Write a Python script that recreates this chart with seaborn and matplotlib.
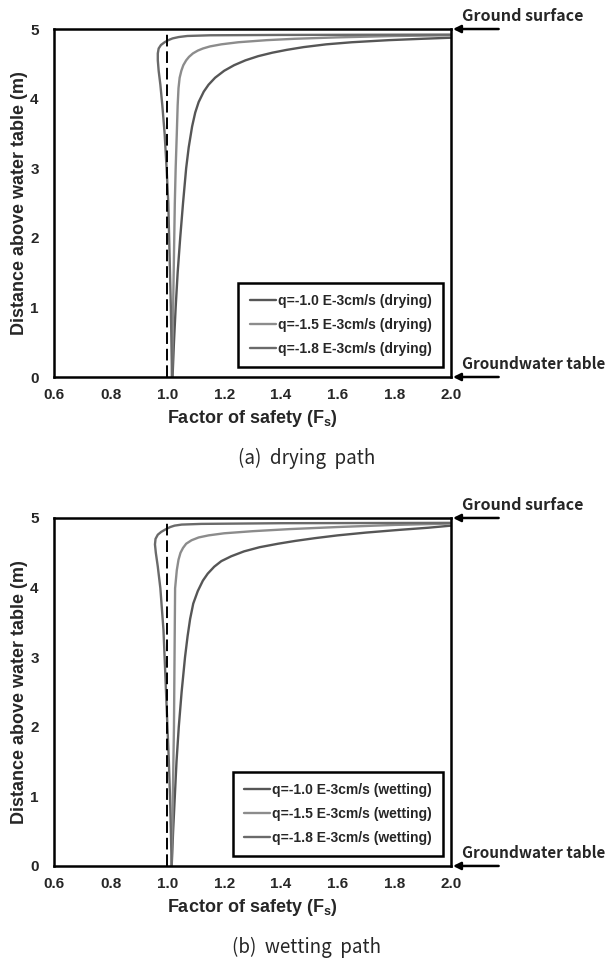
import numpy as np
import pandas as pd
import seaborn as sns
import matplotlib.pyplot as plt

# ---- data ---------------------------------------------------------------------

series = ['q=-1.0 E-3cm/s', 'q=-1.5 E-3cm/s', 'q=-1.8 E-3cm/s']
line_colors = ['#565656', '#8c8c8c', '#6a6a6a']

# (a) drying path
dry_z_10 = [0, 0.5, 1.0, 1.5, 2.0, 2.5, 3.0, 3.3, 3.6, 3.8, 3.95, 4.1, 4.2, 4.3,
            4.4, 4.48, 4.55, 4.61, 4.66, 4.70, 4.74, 4.78, 4.81, 4.84, 4.86, 4.875]
dry_fs_10 = [1.018, 1.023, 1.029, 1.036, 1.045, 1.055, 1.066, 1.075, 1.087, 1.098,
             1.11, 1.128, 1.145, 1.168, 1.2, 1.235, 1.275, 1.32, 1.37, 1.42, 1.48,
             1.56, 1.65, 1.78, 1.9, 2.0]

dry_z_15 = [0, 0.5, 1.0, 1.5, 2.0, 2.5, 3.0, 3.5, 3.9, 4.15, 4.3, 4.4, 4.48, 4.55,
            4.6, 4.65, 4.69, 4.72, 4.75, 4.78, 4.81, 4.84, 4.86, 4.88, 4.9, 4.91]
dry_fs_15 = [1.016, 1.018, 1.02, 1.022, 1.024, 1.026, 1.029, 1.033, 1.036, 1.039,
             1.043, 1.049, 1.056, 1.066, 1.076, 1.09, 1.107, 1.125, 1.15, 1.19,
             1.25, 1.35, 1.45, 1.6, 1.8, 2.0]

dry_z_18 = [0, 0.5, 1.0, 1.5, 2.0, 2.5, 3.0, 3.5, 3.9, 4.2, 4.4, 4.55, 4.65, 4.72,
            4.77, 4.81, 4.84, 4.865, 4.885, 4.9, 4.91, 4.915, 4.92]
dry_fs_18 = [1.016, 1.014, 1.012, 1.009, 1.006, 1.003, 0.997, 0.99, 0.982, 0.975,
             0.969, 0.966, 0.966, 0.969, 0.977, 0.99, 1.003, 1.018, 1.04, 1.07,
             1.15, 1.4, 2.0]

# (b) wetting path
wet_z_10 = [0, 0.5, 1.0, 1.5, 2.0, 2.5, 3.0, 3.3, 3.55, 3.77, 3.95, 4.1, 4.2, 4.3,
            4.38, 4.45, 4.52, 4.58, 4.63, 4.67, 4.71, 4.75, 4.79, 4.83, 4.86, 4.89]
wet_fs_10 = [1.015, 1.02, 1.026, 1.032, 1.04, 1.05, 1.062, 1.071, 1.08, 1.091,
             1.107, 1.125, 1.142, 1.165, 1.19, 1.225, 1.27, 1.325, 1.39, 1.45,
             1.52, 1.6, 1.7, 1.82, 1.92, 2.0]

wet_z_15 = [0, 0.5, 1.0, 1.5, 2.0, 2.5, 3.0, 3.5, 3.99, 4.25, 4.4, 4.5, 4.57, 4.63,
            4.68, 4.72, 4.75, 4.78, 4.81, 4.84, 4.87, 4.9, 4.92]
wet_fs_15 = [1.015, 1.017, 1.019, 1.021, 1.023, 1.024, 1.025, 1.026, 1.027, 1.033,
             1.039, 1.046, 1.055, 1.066, 1.085, 1.11, 1.145, 1.2, 1.3, 1.43, 1.6,
             1.8, 2.0]

wet_z_18 = [0, 0.5, 1.0, 1.5, 2.0, 2.5, 3.0, 3.39, 3.99, 4.3, 4.5, 4.62, 4.7, 4.76,
            4.8, 4.84, 4.87, 4.89, 4.905, 4.915, 4.925, 4.93]
wet_fs_18 = [1.015, 1.012, 1.009, 1.005, 1.0, 0.995, 0.99, 0.986, 0.975, 0.966,
             0.959, 0.956, 0.958, 0.966, 0.978, 0.995, 1.01, 1.025, 1.05, 1.12,
             1.4, 2.0]

x_ticks = [0.6, 0.8, 1.0, 1.2, 1.4, 1.6, 1.8, 2.0]
y_ticks = [0, 1, 2, 3, 4, 5]

# ---- style --------------------------------------------------------------------

sns.set_theme(style='white')
plt.rcParams['font.family'] = ['Liberation Sans', 'DejaVu Sans']
plt.rcParams['font.weight'] = 'bold'
plt.rcParams['mathtext.fontset'] = 'custom'
plt.rcParams['mathtext.rm'] = 'Liberation Sans:bold'
plt.rcParams['mathtext.bf'] = 'Liberation Sans:bold'

KR = ['Noto Sans CJK KR', 'DejaVu Sans']


def make_df(zs, fss):
    parts = []
    for name, z, fs in zip(series, zs, fss):
        parts.append(pd.DataFrame({'Fs': fs, 'z': z, 'q': name}))
    return pd.concat(parts, ignore_index=True)


def draw_panel(ax, df, tag):
    sns.lineplot(data=df, x='Fs', y='z', hue='q', hue_order=series,
                 palette=line_colors, sort=False, estimator=None,
                 linewidth=1.7, legend=False, ax=ax, solid_joinstyle='round')
    handles = list(ax.get_lines()[:3])
    ax.axvline(1.0, color='black', linewidth=1.4, linestyle=(0, (6, 2.5)))

    ax.set_xlim(0.6, 2.0)
    ax.set_ylim(0, 5)
    ax.set_xticks(x_ticks)
    ax.set_xticklabels([f'{v:.1f}' for v in x_ticks])
    ax.set_yticks(y_ticks)
    ax.tick_params(axis='both', direction='in', length=4, width=1.5,
                   labelsize=11, color='black')
    ax.tick_params(axis='x', pad=8)
    ax.tick_params(axis='y', pad=11)
    for s in ax.spines.values():
        s.set_linewidth(1.8)
        s.set_color('black')

    ax.set_xlabel(r'Factor of safety (F$_\mathrm{s}$)', fontsize=13,
                  fontweight='bold', labelpad=4)
    ax.set_ylabel('Distance above water table (m)', fontsize=13,
                  fontweight='bold')
    ax.yaxis.set_label_coords(-0.065, 0.5)

    leg = ax.legend(handles, [f'{s} ({tag})' for s in series],
                    loc='lower right', bbox_to_anchor=(0.98, 0.029),
                    borderaxespad=0, fontsize=10, handlelength=1.9,
                    handletextpad=0.15, labelspacing=0.72, borderpad=0.8,
                    fancybox=False, framealpha=1, edgecolor='black')
    leg.get_frame().set_linewidth(1.8)
    for t in leg.get_texts():
        t.set_fontweight('bold')

    # boundary markers on the right
    for yfrac, label, size in [(1.0, 'Ground surface', 11.5),
                               (0.0, 'Groundwater table', 11)]:
        ax.annotate('', xy=(1.005, yfrac), xytext=(1.12, yfrac),
                    xycoords='axes fraction', textcoords='axes fraction',
                    arrowprops=dict(arrowstyle='-|>', color='black', lw=1.8,
                                    mutation_scale=11, shrinkA=0, shrinkB=0))
        ax.text(1.028, yfrac + 0.038, label, transform=ax.transAxes,
                ha='left', va='center', fontsize=size, fontweight='bold',
                family=KR)


fig = plt.figure(figsize=(6.07, 9.61), dpi=100)
ax_top = fig.add_axes([0.089, 0.6077, 0.654, 0.3621])
ax_bot = fig.add_axes([0.089, 0.0989, 0.654, 0.3621])

draw_panel(ax_top, make_df([dry_z_10, dry_z_15, dry_z_18],
                           [dry_fs_10, dry_fs_15, dry_fs_18]), 'drying')
draw_panel(ax_bot, make_df([wet_z_10, wet_z_15, wet_z_18],
                           [wet_fs_10, wet_fs_15, wet_fs_18]), 'wetting')

fig.text(0.505, 1 - 458 / 961, '(a)  drying  path', ha='center', va='center',
         fontsize=13.5, fontweight='normal', family=KR)
fig.text(0.505, 1 - 947 / 961, '(b)  wetting  path', ha='center', va='center',
         fontsize=13.5, fontweight='normal', family=KR)

fig.savefig('out.png', dpi=100)
